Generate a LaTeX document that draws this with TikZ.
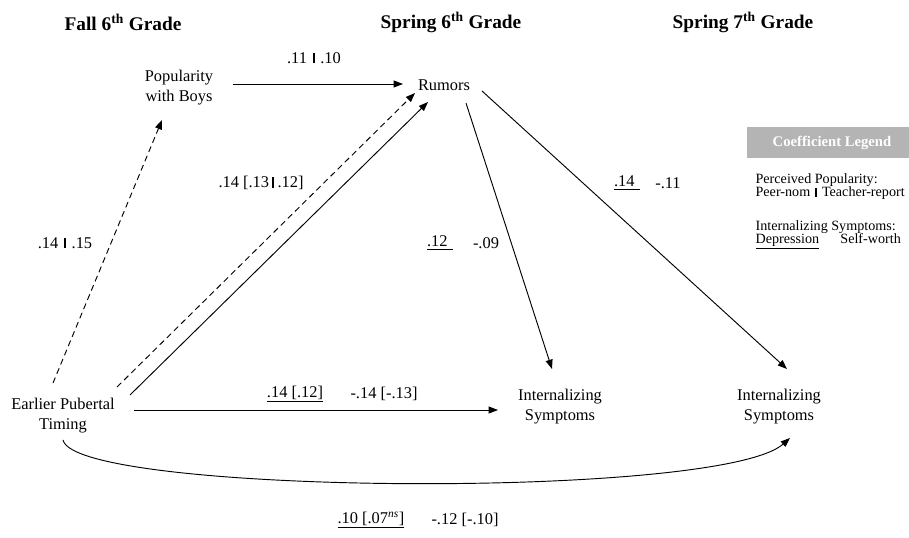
\documentclass[tikz,border=0pt]{standalone}
\usepackage{fontspec}
\setmainfont{Liberation Serif}
\usepackage{tikz}
\usetikzlibrary{arrows.meta,positioning}
\definecolor{legendgray}{HTML}{B4B4B4}
\newcommand{\sepbar}{\hspace{0.35em}\rule[0pt]{1.4pt}{0.62em}\hspace{0.35em}}
\newcommand{\ul}[1]{\underline{#1}}

\begin{document}
\begin{tikzpicture}[
  x=0.75pt, y=-0.75pt,
  every node/.style={font=\fontsize{12.3}{15}\selectfont, inner sep=1pt},
  wave/.style={font=\fontsize{14.5}{17}\selectfont\bfseries},
  var/.style={align=center},
  coef/.style={},
  legendtxt/.style={font=\fontsize{10.6}{10}\selectfont, align=left, anchor=north west},
  causal/.style={-{Triangle[length=7pt,width=5.2pt]}, line width=0.7pt},
  dcausal/.style={causal, dash pattern=on 4.5pt off 3pt}
]
\useasboundingbox (0,0) rectangle (909,538);

% waves
\node[wave] (fall6) at (123,22) {Fall 6\textsuperscript{th} Grade};
\node[wave] (spring6) at (451,22) {Spring 6\textsuperscript{th} Grade};
\node[wave] (spring7) at (743,22) {Spring 7\textsuperscript{th} Grade};

% variables
\node[var] (pop) at (179,88) {Popularity\\with Boys};
\node[var] (rumors) at (444,85) {Rumors};
\node[var] (ept) at (63,416) {Earlier Pubertal\\Timing};
\node[var] (is6) at (560,407) {Internalizing\\Symptoms};
\node[var] (is7) at (779,407) {Internalizing\\Symptoms};

% paths
\draw[causal] ([shift={(54,-4)}]pop.center) -- ([shift={(-41,-1)}]rumors.center);
\draw[dcausal] ([shift={(-10,-33)}]ept.center) -- ([shift={(-17,32)}]pop.center);
\draw[dcausal] ([shift={(54,-29)}]ept.center) -- ([shift={(-29,8)}]rumors.center);
\draw[causal] ([shift={(67,-21)}]ept.center) -- ([shift={(-16,17)}]rumors.center);
\draw[causal] ([shift={(22,18)}]rumors.center) -- ([shift={(-8,-38)}]is6.center);
\draw[causal] ([shift={(38,6)}]rumors.center) -- ([shift={(8,-38)}]is7.center);
\draw[causal] ([shift={(71,-6)}]ept.center) -- ([shift={(-62,3)}]is6.center);
\draw[causal] ([shift={(0,24)}]ept.center) .. controls +(12,55) and +(-70,62) .. ([shift={(11,31)}]is7.center);

% coefficients
\node[coef] (c-pop-rum) at (314,58) {.11\sepbar.10};
\node[coef] (c-ept-pop) at (65,243) {.14\sepbar.15};
\node[coef] (c-ept-rum) at (261,183) {.14 [.13\hspace{0.2em}\rule[0pt]{1.4pt}{0.62em}\hspace{0.2em}.12]};
\node[coef] (c-rum-is6a) at (440,243) {\ul{.12\hspace{4pt}}};
\node[coef] (c-rum-is6b) at (486,243) {-.09};
\node[coef] (c-rum-is7a) at (627,183) {\ul{.14\hspace{4pt}}};
\node[coef] (c-rum-is7b) at (668,183) {-.11};
\node[coef] (c-ept-is6a) at (295,394) {\ul{.14 [.12]}};
\node[coef] (c-ept-is6b) at (384,394) {-.14 [-.13]};
\node[coef] (c-ept-is7a) at (371,520) {\ul{.10 [.07\textsuperscript{\textit{ns}}]}};
\node[coef] (c-ept-is7b) at (465,520) {-.12 [-.10]};

% legend
\node[fill=legendgray, text=white, font=\fontsize{11}{12}\selectfont\bfseries,
      minimum width=121.5pt, minimum height=23.2pt] (legend) at (828,142.5) {\hspace{6pt}Coefficient Legend};
\node[legendtxt] (leg-pop) at (754,172) {Perceived Popularity:\\Peer-nom\sepbar Teacher-report};
\node[legendtxt] (leg-int) at (754,219) {Internalizing Symptoms:\\\ul{Depression}\hspace{1.5em}Self-worth};
\end{tikzpicture}
\end{document}
